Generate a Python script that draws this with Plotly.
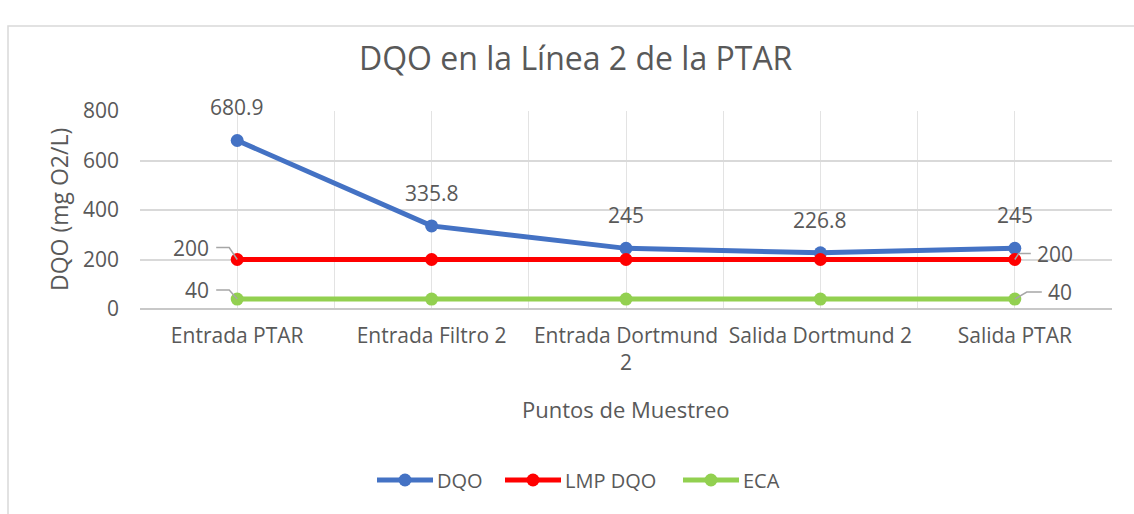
import plotly.graph_objects as go

# Sampling points and measured values
categorias = ["Entrada PTAR", "Entrada Filtro 2", "Entrada Dortmund<br>2",
              "Salida Dortmund 2", "Salida PTAR"]
dqo = [680.9, 335.8, 245, 226.8, 245]
lmp_dqo = [200, 200, 200, 200, 200]
eca = [40, 40, 40, 40, 40]
y_ticks = [0, 200, 400, 600, 800]
series_names = ["DQO", "LMP DQO", "ECA"]

W, H = 1134, 514
ML, MR, MT, MB = 140, 22, 111, 205
PW, PH = W - ML - MR, H - MT - MB

FONT = "Open Sans"
GREY = "#595959"
FS = 21
AZUL, ROJO, VERDE = "#4472C4", "#FF0000", "#92D050"
colors = [AZUL, ROJO, VERDE]

xs = list(range(len(categorias)))


def px_y(y):
    return (H - MB - y) / PH


def px_x(x):
    return (x - ML) / PW


fig = go.Figure()
for nombre, vals, color in zip(series_names, [dqo, lmp_dqo, eca], colors):
    fig.add_trace(go.Scatter(
        x=xs, y=vals, name=nombre, mode="lines+markers",
        line=dict(color=color, width=5),
        marker=dict(color=color, size=13),
        showlegend=False,
    ))

annotations = []
shapes = []

# value labels above the DQO points
for x, v in zip(xs, dqo):
    annotations.append(dict(x=x, y=v, xref="x", yref="y", text=f"{v:g}",
                            showarrow=False, yshift=33, yanchor="middle",
                            font=dict(family=FONT, size=FS, color=GREY)))

# leader-line labels for the limit series at the first and last points
leader_specs = [
    (xs[0], lmp_dqo[0], "M0,0 L-8,12 L-21,12", -26, 12, "right"),
    (xs[0], eca[0], "M0,0 L-8,9 L-21,9", -26, 9, "right"),
    (xs[-1], lmp_dqo[-1], "M0,0 L4,6 L16,6", 20, 6, "left"),
    (xs[-1], eca[-1], "M0,0 L12,7 L27,7", 31, 7, "left"),
]
for x, v, path, dx, dy, anchor in leader_specs:
    shapes.append(dict(type="path", xref="x", yref="y", xsizemode="pixel", ysizemode="pixel",
                       xanchor=x, yanchor=v, path=path,
                       line=dict(color="#A6A6A6", width=1.5)))
    annotations.append(dict(x=x, y=v, xref="x", yref="y", text=f"{v:g}", showarrow=False,
                            xshift=dx, yshift=dy, xanchor=anchor, yanchor="middle",
                            font=dict(family=FONT, size=FS, color=GREY)))

# legend row: line sample with a marker, followed by the series name
legend_y = px_y(480)
legend_x0 = [377, 505, 683]
for nombre, color, x0 in zip(series_names, colors, legend_x0):
    shapes.append(dict(type="line", xref="paper", yref="paper",
                       x0=px_x(x0), x1=px_x(x0 + 56), y0=legend_y, y1=legend_y,
                       line=dict(color=color, width=5)))
    shapes.append(dict(type="circle", xref="paper", yref="paper",
                       xsizemode="pixel", ysizemode="pixel",
                       xanchor=px_x(x0 + 28), yanchor=legend_y,
                       x0=-6.5, x1=6.5, y0=-6.5, y1=6.5,
                       fillcolor=color, line=dict(color=color, width=0)))
    annotations.append(dict(x=px_x(x0 + 58), y=legend_y, xref="paper", yref="paper",
                            xanchor="left", yanchor="middle", text=nombre, showarrow=False,
                            font=dict(family=FONT, size=20, color=GREY)))

# chart title and axis titles
annotations.append(dict(x=px_x(576), y=px_y(58), xref="paper", yref="paper",
                        xanchor="center", yanchor="middle",
                        text="DQO en la Línea 2 de la PTAR", showarrow=False,
                        font=dict(family=FONT, size=32, color=GREY)))
annotations.append(dict(x=px_x(626), y=px_y(409), xref="paper", yref="paper",
                        xanchor="center", yanchor="middle",
                        text="Puntos de Muestreo", showarrow=False,
                        font=dict(family=FONT, size=22, color=GREY)))
annotations.append(dict(x=px_x(59), y=px_y(210), xref="paper", yref="paper",
                        xanchor="center", yanchor="middle",
                        text="DQO (mg O2/L)", showarrow=False, textangle=-90,
                        font=dict(family=FONT, size=23, color=GREY)))

# outer chart frame
shapes.append(dict(type="rect", xref="paper", yref="paper",
                   x0=px_x(8), y0=px_y(540), x1=px_x(1160), y1=px_y(26),
                   line=dict(color="#D9D9D9", width=1.5), layer="below"))

fig.update_layout(
    width=W, height=H,
    margin=dict(l=ML, r=MR, t=MT, b=MB, autoexpand=False),
    paper_bgcolor="white", plot_bgcolor="white",
    font=dict(family=FONT, size=FS, color=GREY),
    showlegend=False,
    annotations=annotations,
    shapes=shapes,
    xaxis=dict(range=[-0.5, len(categorias) - 0.5], tickvals=xs, ticktext=categorias,
               showgrid=True, gridcolor="#E3E3E3", gridwidth=1,
               minor=dict(tick0=0.5, dtick=1, showgrid=True, gridcolor="#E3E3E3", gridwidth=1),
               showline=False, zeroline=False, ticks="", ticklabelstandoff=12,
               tickfont=dict(family=FONT, size=FS, color=GREY), fixedrange=True),
    yaxis=dict(range=[0, 800], tickvals=y_ticks, showgrid=True, gridcolor="#D9D9D9", gridwidth=1.5,
               zeroline=True, zerolinecolor="#C8C8C8", zerolinewidth=1.5,
               showline=False, ticks="", ticklabelstandoff=20,
               tickfont=dict(family=FONT, size=FS, color=GREY), fixedrange=True),
)

fig.write_html("out.html")
